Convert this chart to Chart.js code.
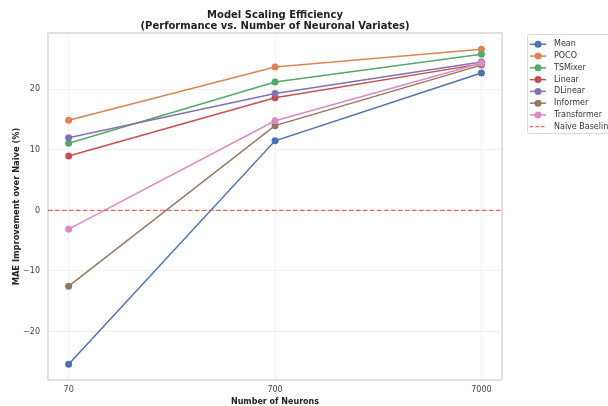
<!DOCTYPE html>
<html>
<head>
<meta charset="utf-8">
<script src="https://cdn.jsdelivr.net/npm/chart.js@4/dist/chart.umd.min.js"></script>
<style>
  html, body { margin: 0; padding: 0; background: #ffffff; overflow: hidden; }
  #wrap { width: 608px; height: 406px; }
</style>
</head>
<body>
<div id="wrap"><canvas id="c" width="608" height="406"></canvas></div>
<script>
// Number of neuronal variates (x categories, log scale)
const neurons = [70, 700, 7000];
const xTicks = [70, 700, 7000];
const yTicks = [-20, -10, 0, 10, 20];

// MAE improvement over the naive forecaster (%)
const mean        = [-25.4, 11.5, 22.7];
const poco        = [14.9, 23.7, 26.6];
const tsmixer     = [11.1, 21.2, 25.8];
const linear      = [9.0, 18.6, 24.2];
const dlinear     = [12.0, 19.3, 24.5];
const informer    = [-12.5, 14.0, 24.0];
const transformer = [-3.1, 14.8, 24.3];
const naiveBaseline = 0;

const seriesNames  = ['Mean', 'POCO', 'TSMixer', 'Linear', 'DLinear', 'Informer', 'Transformer'];
const seriesValues = [mean, poco, tsmixer, linear, dlinear, informer, transformer];
const seriesColors = ['#4C72B0', '#DD8452', '#55A868', '#C44E52', '#8172B3', '#937860', '#DA8BC3'];
const baselineColor = 'rgba(235, 60, 60, 0.8)';

const FONT = "'DejaVu Sans', sans-serif";

const datasets = seriesNames.map((name, i) => ({
  label: name,
  data: neurons.map((n, j) => ({ x: n, y: seriesValues[i][j] })),
  borderColor: seriesColors[i],
  backgroundColor: seriesColors[i],
  pointBackgroundColor: seriesColors[i],
  pointBorderColor: seriesColors[i],
  pointBorderWidth: 0,
  pointRadius: 3.5,
  pointHoverRadius: 3.5,
  borderWidth: 1.5,
  tension: 0,
  order: seriesNames.length - i
}));

// Plot frame, dashed naive baseline and the outside legend
const decorations = {
  id: 'decorations',
  beforeDatasetsDraw(chart) {
    const { ctx, chartArea: a } = chart;
    ctx.save();
    ctx.strokeStyle = '#d9d9d9';
    ctx.lineWidth = 1.6;
    ctx.strokeRect(a.left, a.top, a.right - a.left, a.bottom - a.top);
    ctx.restore();
  },
  afterDatasetsDraw(chart) {
    const { ctx, chartArea: a, scales } = chart;
    const y0 = scales.y.getPixelForValue(naiveBaseline);
    ctx.save();
    ctx.strokeStyle = baselineColor;
    ctx.lineWidth = 1.2;
    ctx.setLineDash([4.5, 2.5]);
    ctx.beginPath();
    ctx.moveTo(a.left, y0);
    ctx.lineTo(a.right, y0);
    ctx.stroke();
    ctx.restore();
  },
  afterDraw(chart) {
    const { ctx } = chart;
    const bx = 527.5, by = 34.5, bw = 110, bh = 99;
    ctx.save();
    ctx.fillStyle = 'rgba(255,255,255,0.8)';
    ctx.strokeStyle = '#d9d9d9';
    ctx.lineWidth = 1;
    ctx.beginPath();
    ctx.roundRect(bx, by, bw, bh, 2);
    ctx.fill();
    ctx.stroke();

    const rowY0 = 44.3, rowStep = 11.77;
    const hx0 = 530, hx1 = 546, tx = 554;
    ctx.font = `8px ${FONT}`;
    ctx.textBaseline = 'middle';
    ctx.textAlign = 'left';
    chart.data.datasets.forEach((ds, i) => {
      const y = rowY0 + i * rowStep;
      ctx.strokeStyle = ds.borderColor;
      ctx.lineWidth = 1.5;
      ctx.beginPath();
      ctx.moveTo(hx0, y);
      ctx.lineTo(hx1, y);
      ctx.stroke();
      ctx.fillStyle = ds.borderColor;
      ctx.beginPath();
      ctx.arc((hx0 + hx1) / 2, y, 3.5, 0, Math.PI * 2);
      ctx.fill();
      ctx.fillStyle = '#333333';
      ctx.fillText(ds.label, tx, y);
    });
    const yb = rowY0 + chart.data.datasets.length * rowStep;
    ctx.strokeStyle = baselineColor;
    ctx.lineWidth = 1.2;
    ctx.setLineDash([3.5, 2]);
    ctx.beginPath();
    ctx.moveTo(hx0, yb);
    ctx.lineTo(hx1, yb);
    ctx.stroke();
    ctx.setLineDash([]);
    ctx.fillStyle = '#333333';
    ctx.fillText('Naive Baseline', tx, yb);
    ctx.restore();
  }
};

new Chart(document.getElementById('c'), {
  type: 'line',
  data: { datasets },
  options: {
    responsive: false,
    animation: false,
    events: [],
    layout: { padding: { left: 0, right: 106, top: 0, bottom: 0 } },
    plugins: {
      legend: { display: false },
      tooltip: { enabled: false },
      title: {
        display: true,
        fullSize: false,
        text: ['Model Scaling Efficiency', '(Performance vs. Number of Neuronal Variates)'],
        color: '#222222',
        font: { family: FONT, size: 10, weight: 'bold', lineHeight: 1.1 },
        padding: { top: 9.5, bottom: 1.5 }
      }
    },
    scales: {
      x: {
        type: 'logarithmic',
        min: 55.6,
        max: 8810,
        afterBuildTicks(scale) { scale.ticks = xTicks.map(v => ({ value: v })); },
        afterFit(scale) { scale.height = 26; },
        ticks: {
          color: '#444444',
          font: { family: FONT, size: 8 },
          padding: 5,
          maxRotation: 0,
          autoSkip: false,
          callback: v => String(v)
        },
        grid: { color: '#eeeeee', lineWidth: 0.8, drawTicks: false },
        border: { display: false },
        title: {
          display: true,
          text: 'Number of Neurons',
          color: '#222222',
          font: { family: FONT, size: 8, weight: 'bold', lineHeight: 1 },
          padding: { top: 0, bottom: 0 }
        }
      },
      y: {
        type: 'linear',
        min: -28.0,
        max: 29.3,
        afterBuildTicks(scale) { scale.ticks = yTicks.map(v => ({ value: v })); },
        afterFit(scale) { scale.width = 48; },
        ticks: {
          color: '#444444',
          font: { family: FONT, size: 8 },
          padding: 8,
          callback: v => String(v).replace('-', '\u2212')
        },
        grid: { color: '#eeeeee', lineWidth: 0.8, drawTicks: false },
        border: { display: false },
        title: {
          display: true,
          text: 'MAE Improvement over Naive (%)',
          color: '#222222',
          font: { family: FONT, size: 8.3, weight: 'bold', lineHeight: 1.2 },
          padding: { top: 12, bottom: 0 }
        }
      }
    }
  },
  plugins: [decorations]
});
</script>
</body>
</html>
